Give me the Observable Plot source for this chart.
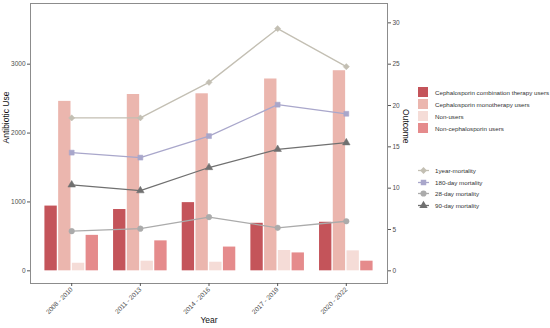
<!DOCTYPE html>
<html>
<head>
<meta charset="utf-8">
<script src="https://cdn.jsdelivr.net/npm/d3@7"></script>
<script src="https://cdn.jsdelivr.net/npm/@observablehq/plot@0.6"></script>
<style>
  html, body { margin: 0; padding: 0; background: #fff; }
  #wrap { position: relative; width: 550px; height: 328px; font-family: "Liberation Sans", Arial, sans-serif; }
  #wrap svg { display: block; }
  .legend { position: absolute; left: 418px; font-size: 6.2px; color: #333; }
  .legend .row { display: flex; align-items: center; height: 12px; }
  .legend .sw { width: 10px; height: 10px; margin-right: 7px; }
  .legend .key { width: 11px; height: 11px; margin-right: 6px; }
</style>
</head>
<body>
<div id="wrap"></div>
<script>
// ---- data ----
const years = ["2008 - 2010", "2011 - 2013", "2014 - 2016", "2017 - 2019", "2020 - 2022"];
const barSeries = ["Cephalosporin combination therapy users", "Cephalosporin monotherapy users", "Non-users", "Non-cephalosporin users"];
const combination = [940, 890, 990, 690, 705];
const monotherapy = [2460, 2560, 2570, 2785, 2905];
const nonUsers = [110, 140, 125, 295, 290];
const nonCephalosporin = [515, 435, 345, 260, 140];
const barColors = ["#C4545A", "#EBB6AE", "#F5DCD7", "#E58B8C"];

const lineSeries = ["1year-mortality", "180-day mortality", "28-day mortality", "90-day mortality"];
const mort1year = [18.5, 18.5, 22.8, 29.3, 24.7];
const mort180 = [14.3, 13.7, 16.3, 20.1, 19.0];
const mort28 = [4.8, 5.1, 6.5, 5.2, 6.0];
const mort90 = [10.4, 9.7, 12.5, 14.7, 15.5];
const lineColors = ["#C3BFB3", "#A9A7CB", "#ABABAB", "#707070"];
const lineSymbols = ["diamond2", "square", "circle", "triangle"];

const useTicks = [0, 1000, 2000, 3000];
const outcomeTicks = [0, 5, 10, 15, 20, 25, 30];
const K = 120; // secondary axis factor

// ---- tables ----
const barValues = [combination, monotherapy, nonUsers, nonCephalosporin];
const bars = barValues.flatMap((vals, si) => vals.map((v, gi) => ({
  name: barSeries[si], v,
  x1: gi + (si - 1.5) * 0.2 - 0.09,
  x2: gi + (si - 1.5) * 0.2 + 0.09
})));
const lineValues = [mort1year, mort180, mort28, mort90];
const lines = lineValues.flatMap((vals, si) => vals.map((v, gi) => ({
  name: lineSeries[si], gi, v: v * K
})));

const tickColor = "#4d4d4d";
const plot = Plot.plot({
  width: 550,
  height: 328,
  marginLeft: 30,
  marginRight: 163,
  marginTop: 3,
  marginBottom: 45,
  style: { fontFamily: "Liberation Sans, Arial, sans-serif", background: "white" },
  x: { type: "linear", domain: [-0.6, 4.6] },
  y: { domain: [-184, 3881] },
  color: { domain: [...barSeries, ...lineSeries], range: [...barColors, ...lineColors] },
  symbol: { domain: lineSeries, range: lineSymbols },
  marks: [
    Plot.rectY(bars, { x1: "x1", x2: "x2", y: "v", fill: "name" }),
    Plot.line(lines, { x: "gi", y: "v", z: "name", stroke: "name", strokeWidth: 1.3 }),
    Plot.dot(lines, { x: "gi", y: "v", symbol: "name", fill: "name", stroke: "name", strokeWidth: 0.5, r: 2.8 }),
    Plot.frame({ stroke: "#8c8c8c", strokeWidth: 1 }),
    Plot.axisY(useTicks, { anchor: "left", tickFormat: d => String(d), tickSize: 3, tickPadding: 2, fontSize: 6.5, color: tickColor, stroke: "#555", label: null }),
    Plot.axisY(outcomeTicks.map(t => t * K), { anchor: "right", tickFormat: d => String(d / K), tickSize: 3, tickPadding: 2, fontSize: 6.5, color: tickColor, stroke: "#555", label: null }),
    Plot.axisX(d3.range(years.length), { anchor: "bottom", tickFormat: i => years[i], tickRotate: -45, tickSize: 3, tickPadding: 2, fontSize: 6.5, color: tickColor, stroke: "#555", label: null }),
    Plot.text(["Antibiotic Use"], { frameAnchor: "left", rotate: -90, dx: -24, fontSize: 8.5, fill: "#111" }),
    Plot.text(["Outcome"], { frameAnchor: "right", rotate: 90, dx: 18, fontSize: 8.5, fill: "#111" }),
    Plot.text(["Year"], { frameAnchor: "bottom", dy: 39, fontSize: 8.5, fill: "#111" })
  ]
});
const wrap = document.getElementById("wrap");
wrap.appendChild(plot);

// ---- legends ----
const leg1 = d3.select(wrap).append("div").attr("class", "legend").style("top", "86px");
barSeries.forEach((name, i) => {
  const row = leg1.append("div").attr("class", "row");
  row.append("div").attr("class", "sw").style("background", barColors[i]);
  row.append("span").text(name);
});
const leg2 = d3.select(wrap).append("div").attr("class", "legend").style("top", "165px");
lineSeries.forEach((name, i) => {
  const row = leg2.append("div").attr("class", "row").style("height", "11.5px");
  const svg = row.append("svg").attr("class", "key").attr("width", 11).attr("height", 11);
  svg.append("line").attr("x1", 0).attr("x2", 11).attr("y1", 5.5).attr("y2", 5.5)
    .attr("stroke", lineColors[i]).attr("stroke-width", 1.3);
  const sym = d3.symbol().type({ diamond2: d3.symbolDiamond2, square: d3.symbolSquare, circle: d3.symbolCircle, triangle: d3.symbolTriangle }[lineSymbols[i]]).size(30);
  svg.append("path").attr("d", sym()).attr("transform", "translate(5.5,5.5)").attr("fill", lineColors[i]);
  row.append("span").text(name);
});
</script>
</body>
</html>
